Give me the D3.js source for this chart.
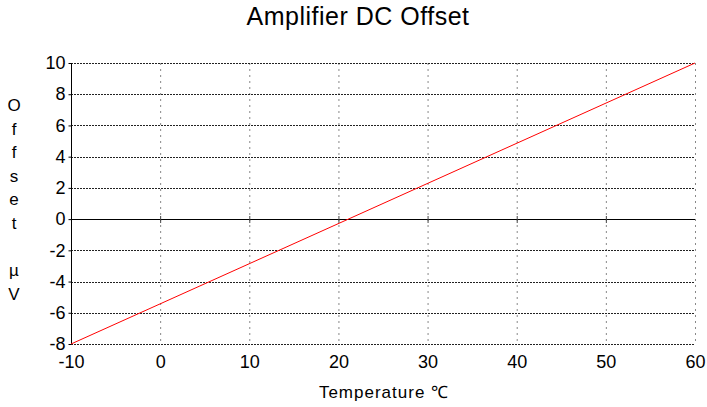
<!DOCTYPE html>
<html>
<head>
<meta charset="utf-8">
<script src="https://cdn.jsdelivr.net/npm/d3@7"></script>
<style>
	body { margin: 0; background: #fff; }
	text { font-family: "Liberation Sans", Arial, sans-serif; fill: #000; }
</style>
</head>
<body>
<svg id="chart" width="707" height="407"></svg>
<script>
// Daten
const tempValues = [-10, 60];
const offsetValues = [-8, 10];
const xTicks = [-10, 0, 10, 20, 30, 40, 50, 60];
const yTicks = [-8, -6, -4, -2, 0, 2, 4, 6, 8, 10];
const yLabelLetters = ["O", "f", "f", "s", "e", "t", "", "\u00b5", "V"];

const svg = d3.select("#chart");
const plotLeft = 71, plotRight = 695, plotTop = 63, plotBottom = 344;
const tickFont = 18;

let x = d3.scaleLinear().domain([-10, 60]).range([plotLeft, plotRight]);
let y = d3.scaleLinear().domain([-8, 10]).range([plotBottom, plotTop]);

// Titel
svg.append("text").text("Amplifier DC Offset")
	.attr("x", 358).attr("y", 25)
	.attr("font-size", 25)
	.style("letter-spacing", "0.5px")
	.style("text-anchor", "middle");

// vertikale Gitterlinien
svg.append("g").selectAll("line").data(xTicks.slice(1)).join("line")
	.attr("x1", d => x(d) + 0.5).attr("x2", d => x(d) + 0.5)
	.attr("y1", plotTop).attr("y2", plotBottom)
	.attr("stroke", "#888").attr("stroke-width", 1)
	.attr("stroke-dasharray", "2,4");

// horizontale Gitterlinien
svg.append("g").selectAll("line").data(yTicks.filter(d => d !== 0)).join("line")
	.attr("x1", plotLeft).attr("x2", plotRight)
	.attr("y1", d => Math.round(y(d)) + 0.5).attr("y2", d => Math.round(y(d)) + 0.5)
	.attr("stroke", "#222").attr("stroke-width", 1)
	.attr("stroke-dasharray", "2,1");

// Nulllinie
svg.append("line")
	.attr("x1", plotLeft).attr("x2", plotRight)
	.attr("y1", Math.round(y(0)) + 0.5).attr("y2", Math.round(y(0)) + 0.5)
	.attr("stroke", "#000").attr("stroke-width", 1);

// kleine Ticks auf der Nulllinie
svg.append("g").selectAll("line").data(xTicks.slice(1, -1)).join("line")
	.attr("x1", d => x(d) + 0.5).attr("x2", d => x(d) + 0.5)
	.attr("y1", Math.round(y(0)) - 3).attr("y2", Math.round(y(0)) + 4)
	.attr("stroke", "#444").attr("stroke-width", 1);

// Y-Achse
let yAxis = d3.axisLeft(y).tickValues(yTicks).tickSize(3).tickPadding(3);
let gy = svg.append("g").attr("transform", "translate(" + (plotLeft + 0.5) + ",0)").call(yAxis);
gy.select(".domain").attr("stroke", "#000").attr("d", "M0," + plotTop + "V" + plotBottom);
gy.selectAll("text").attr("font-size", tickFont).attr("font-family", "Liberation Sans, Arial, sans-serif")
	.text(d => d < 0 ? "-" + Math.abs(d) : d);

// X-Achse (nur Beschriftung)
let xAxis = d3.axisBottom(x).tickValues(xTicks).tickSize(0).tickPadding(11);
let gx = svg.append("g").attr("transform", "translate(0," + plotBottom + ")").call(xAxis);
gx.select(".domain").remove();
gx.selectAll("text").attr("font-size", tickFont).attr("font-family", "Liberation Sans, Arial, sans-serif")
	.text(d => d < 0 ? "-" + Math.abs(d) : d);

// Achsentitel
svg.append("text").text("Temperature \u2103")
	.attr("x", 384).attr("y", 398)
	.attr("font-size", 17)
	.style("letter-spacing", "1px")
	.style("text-anchor", "middle");

svg.append("g").selectAll("text").data(yLabelLetters).join("text")
	.text(d => d)
	.attr("x", 14)
	.attr("y", (d, i) => 111 + i * 23.6)
	.attr("font-size", 17)
	.style("text-anchor", "middle");

// Messlinie
let line = d3.line().x(d => x(d[0])).y(d => y(d[1]));
svg.append("path")
	.datum(d3.zip(tempValues, offsetValues))
	.attr("d", line)
	.attr("fill", "none")
	.attr("stroke", "#ff0000")
	.attr("stroke-width", 1);
</script>
</body>
</html>
